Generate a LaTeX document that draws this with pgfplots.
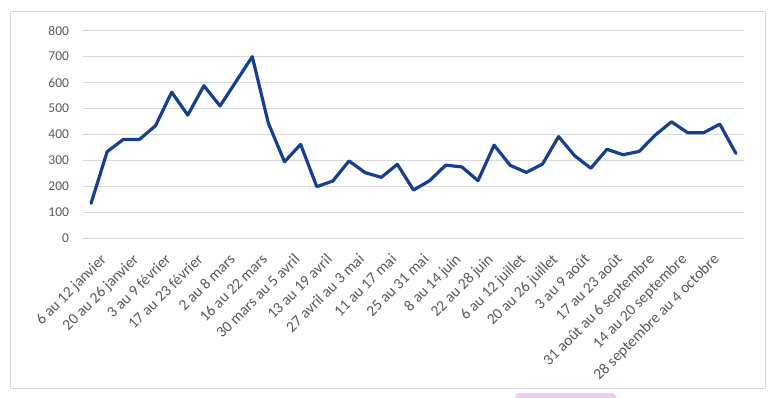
\documentclass[border=0pt]{standalone}
\usepackage{pgfplots}
\pgfplotsset{compat=1.18}
\usepackage{fontspec}
\setmainfont{Carlito}
\definecolor{lineblue}{HTML}{163F8F}
\definecolor{gridgray}{HTML}{D9D9D9}
\definecolor{ticktext}{HTML}{595959}
\definecolor{pinkbox}{HTML}{F2CDF0}
\begin{document}
\begin{tikzpicture}[x=1pt,y=1pt]
\useasboundingbox (0,0) rectangle (776,397);
\draw[gridgray, line width=1pt] (10,9) rectangle (765.5,385);
\fill[pinkbox, rounded corners=4pt] (515,-8) rectangle (616,4);
\begin{axis}[
  at={(83pt,158.7pt)}, anchor=south west,
  scale only axis, width=661pt, height=207.6pt,
  xmin=-0.5, xmax=40.5, ymin=0, ymax=800,
  ytick={0,100,...,800},
  xtick={0,2,...,38},
  xticklabels={6 au 12 janvier,20 au 26 janvier,3 au 9 février,17 au 23 février,2 au 8 mars,16 au 22 mars,30 mars au 5 avril,13 au 19 avril,27 avril au 3 mai,11 au 17 mai,25 au 31 mai,8 au 14 juin,22 au 28 juin,6 au 12 juillet,20 au 26 juillet,3 au 9 août,17 au 23 août,31 août au 6 septembre,14 au 20 septembre,28 septembre au 4 octobre},
  ymajorgrids, grid style={gridgray, line width=0.75pt},
  axis line style={draw=none}, major tick length=0pt,
  /pgf/number format/assume math mode=true,
  tick label style={text=ticktext},
  yticklabel style={font=\fontsize{13.5}{16}\selectfont, xshift=-10.5pt},
  xticklabel style={font=\fontsize{15.5}{18}\selectfont, rotate=45, anchor=north east, inner sep=1pt, yshift=-15pt, xshift=-3pt},
  clip=false,
]
\addplot[lineblue, line width=3.2pt, line join=round, line cap=round] coordinates {
(0,135) (1,334) (2,381) (3,381) (4,434) (5,563) (6,475) (7,588) (8,510) (9,605)
(10,700) (11,443) (12,295) (13,362) (14,199) (15,221) (16,298) (17,253) (18,235) (19,285)
(20,186) (21,222) (22,282) (23,275) (24,222) (25,359) (26,281) (27,254) (28,286) (29,392)
(30,318) (31,270) (32,343) (33,322) (34,335) (35,398) (36,449) (37,407) (38,407) (39,440)
(40,327)
};
\end{axis}
\end{tikzpicture}
\end{document}
